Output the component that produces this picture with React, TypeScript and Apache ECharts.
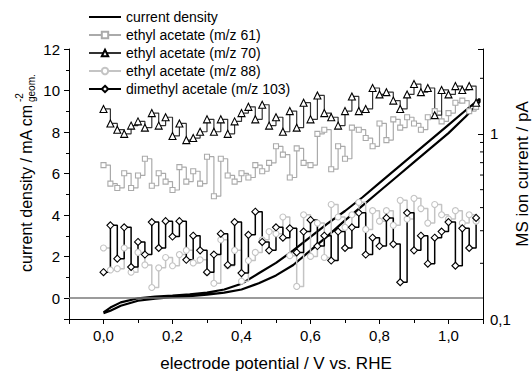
import React, { useEffect, useRef } from 'react';
import * as echarts from 'echarts';

// MS potentials (V vs. RHE)
const msPotential = [
  0.0, 0.02, 0.04, 0.06, 0.08, 0.1, 0.12, 0.14, 0.16, 0.18, 0.2, 0.22, 0.24, 0.26, 0.28,
  0.3, 0.32, 0.34, 0.36, 0.38, 0.4, 0.42, 0.44, 0.46, 0.48, 0.5, 0.52, 0.54, 0.56, 0.58,
  0.6, 0.62, 0.64, 0.66, 0.68, 0.7, 0.72, 0.74, 0.76, 0.78, 0.8, 0.82, 0.84, 0.86, 0.88,
  0.9, 0.92, 0.94, 0.96, 0.98, 1.0, 1.02, 1.04, 1.06, 1.08,
];
// MS ion currents (pA)
const ms61 = [
  0.679, 0.539, 0.511, 0.613, 0.511, 0.597, 0.735, 0.525, 0.613, 0.553,
  0.498, 0.662, 0.553, 0.629, 0.539, 0.754, 0.461, 0.735, 0.597, 0.553,
  0.613, 0.582, 0.679, 0.629, 0.698, 0.858, 0.774, 0.582, 0.836, 0.698,
  0.679, 1.002, 1.055, 0.645, 0.858, 0.735, 1.082, 1.055, 0.951, 0.858,
  1.14, 0.927, 1.2, 1.082, 1.232, 1.14, 1.055, 1.232, 1.33, 1.17,
  1.297, 1.476, 1.515, 1.33, 1.402,
];
const ms70 = [
  1.366, 1.14, 1.055, 1.002, 1.11, 1.17, 1.082, 1.297, 1.11, 1.232,
  0.976, 1.14, 0.927, 0.951, 1.028, 1.2, 1.028, 1.2, 1.002, 1.17,
  1.297, 1.402, 1.2, 1.439, 1.11, 1.232, 1.028, 1.33, 1.082, 1.476,
  1.2, 1.616, 1.297, 1.232, 1.11, 1.33, 1.596, 1.33, 1.366, 1.772,
  1.637, 1.683, 1.515, 1.366, 1.637, 1.862, 1.683, 1.772, 1.264, 1.73,
  1.637, 1.815, 1.73, 1.815, 1.476,
];
const ms88 = [
  0.242, 0.184, 0.187, 0.242, 0.179, 0.229, 0.196, 0.148, 0.189, 0.215,
  0.194, 0.223, 0.235, 0.201, 0.209, 0.179, 0.156, 0.268, 0.194, 0.235,
  0.16, 0.207, 0.229, 0.268, 0.297, 0.289, 0.356, 0.22, 0.15, 0.366,
  0.218, 0.33, 0.215, 0.416, 0.356, 0.313, 0.366, 0.427, 0.305, 0.385,
  0.338, 0.385, 0.321, 0.438, 0.347, 0.449, 0.395, 0.33, 0.416, 0.366,
  0.347, 0.385, 0.33, 0.366, 0.338,
];
const ms103 = [
  0.179, 0.321, 0.212, 0.313, 0.191, 0.261, 0.223, 0.334, 0.242, 0.338,
  0.279, 0.338, 0.209, 0.282, 0.235, 0.179, 0.223, 0.289, 0.196, 0.334,
  0.177, 0.285, 0.38, 0.261, 0.235, 0.313, 0.275, 0.309, 0.229, 0.297,
  0.343, 0.248, 0.282, 0.207, 0.297, 0.242, 0.313, 0.375, 0.223, 0.275,
  0.248, 0.352, 0.254, 0.158, 0.375, 0.235, 0.282, 0.199, 0.275, 0.297,
  0.334, 0.194, 0.309, 0.242, 0.352,
];

// Cyclic voltammogram: current density (mA cm^-2)
const cdPotential = [
  0.0, 0.02, 0.05, 0.1, 0.15, 0.2, 0.25, 0.3, 0.35, 0.4, 0.45, 0.5, 0.55, 0.6, 0.65, 0.7,
  0.75, 0.8, 0.85, 0.9, 0.95, 1.0, 1.05, 1.09,
  1.09, 1.05, 1.0, 0.95, 0.9, 0.85, 0.8, 0.75, 0.7, 0.65, 0.6, 0.55, 0.5, 0.45, 0.4,
  0.35, 0.3, 0.25, 0.2, 0.15, 0.1, 0.05, 0.02, 0.0,
];
const cdCurrent = [
  -0.72, -0.6, -0.36, -0.12, -0.02, 0.05, 0.1, 0.17, 0.27, 0.42, 0.72, 1.1, 1.6, 2.3, 3.0,
  3.75, 4.45, 5.15, 5.85, 6.55, 7.25, 7.95, 8.75, 9.45,
  9.6, 9.05, 8.35, 7.65, 6.95, 6.25, 5.55, 4.85, 4.2, 3.6, 2.95, 2.3, 1.7, 1.2, 0.7,
  0.42, 0.27, 0.19, 0.13, 0.08, 0.0, -0.2, -0.45, -0.68,
];

const seriesNames = [
  'current density',
  'ethyl acetate (m/z 61)',
  'ethyl acetate (m/z 70)',
  'ethyl acetate (m/z 88)',
  'dimethyl acetale (m/z 103)',
];
const rightMinorTicks = [0.2, 0.3, 0.4, 0.5, 0.6, 0.7, 0.8, 0.9, 2];

const FONT = 'Liberation Sans, Arial, sans-serif';

function msSeries(name: string, values: number[], lineColor: string, borderColor: string, symbol: string, size: number, width: number) {
  return {
    name,
    type: 'line',
    yAxisIndex: 1,
    step: 'end',
    data: msPotential.map((x, i) => [x, values[i]]),
    symbol,
    symbolSize: size,
    showAllSymbol: true,
    lineStyle: { color: lineColor, width },
    itemStyle: { color: '#ffffff', borderColor, borderWidth: 1.1 },
    emphasis: { disabled: true },
  };
}

export default function App() {
  const ref = useRef<HTMLDivElement>(null);
  useEffect(() => {
    if (!ref.current) return;
    const chart = echarts.init(ref.current, undefined, { renderer: 'svg' });
    const option: any = {
      animation: false,
      backgroundColor: '#ffffff',
      textStyle: { fontFamily: FONT },
      grid: { left: 69, right: 49, top: 49, bottom: 52 },
      legend: {
        data: [
          { name: seriesNames[0], itemStyle: { opacity: 0 } },
          seriesNames[1],
          seriesNames[2],
          seriesNames[3],
          seriesNames[4],
        ],
        orient: 'vertical',
        left: 88,
        top: 10,
        padding: 0,
        itemWidth: 32,
        itemHeight: 8,
        itemGap: 4,
        textStyle: { fontSize: 14, color: '#000', fontFamily: FONT },
        selectedMode: false,
      },
      xAxis: {
        type: 'value',
        min: -0.1,
        max: 1.1,
        splitNumber: 6,
        axisLine: { onZero: false, lineStyle: { color: '#000', width: 1 } },
        axisTick: { show: true, length: 5, lineStyle: { color: '#000' } },
        minorTick: { show: true, splitNumber: 2, length: 4, lineStyle: { color: '#000' } },
        splitLine: { show: false },
        axisLabel: {
          color: '#000',
          fontSize: 15,
          fontFamily: FONT,
          margin: 9,
          formatter: (v: number) => {
            const k = Math.round(v * 10);
            if (k < 0 || k > 10 || k % 2 !== 0) return '';
            return (k / 10).toFixed(1).replace('.', ',');
          },
        },
      },
      yAxis: [
        {
          type: 'value',
          min: -1,
          max: 12,
          splitNumber: 6,
          position: 'left',
          axisLine: { show: true, onZero: false, lineStyle: { color: '#000', width: 1 } },
          axisTick: { show: true, length: 5, lineStyle: { color: '#000' } },
          minorTick: { show: true, splitNumber: 2, length: 3, lineStyle: { color: '#000' } },
          splitLine: { show: false },
          axisLabel: {
            color: '#000',
            fontSize: 15,
            fontFamily: FONT,
            margin: 9,
            formatter: (v: number) => (v < 0 ? '' : String(Math.round(v))),
          },
        },
        {
          type: 'log',
          logBase: 10,
          min: 0.1,
          max: 2.88,
          position: 'right',
          axisLine: { show: true, onZero: false, lineStyle: { color: '#000', width: 1 } },
          axisTick: { show: true, inside: true, length: 5, lineStyle: { color: '#000' } },
          splitLine: { show: false },
          axisLabel: {
            color: '#000',
            fontSize: 15,
            fontFamily: FONT,
            margin: 7,
            formatter: (v: number) => {
              if (Math.abs(v - 0.1) < 1e-6) return '0,1';
              if (Math.abs(v - 1) < 1e-6) return '1';
              return '';
            },
          },
        },
      ],
      graphic: [
        {
          type: 'text',
          x: 276,
          y: 363,
          style: {
            text: 'electrode potential / V vs. RHE',
            font: `17px ${FONT}`,
            fill: '#000',
            textAlign: 'center',
            align: 'center',
            textVerticalAlign: 'middle',
            verticalAlign: 'middle',
          },
        },
        {
          type: 'text',
          x: 522,
          y: 174,
          rotation: Math.PI / 2,
          style: {
            text: 'MS ion current / pA',
            font: `17px ${FONT}`,
            fill: '#000',
            textAlign: 'center',
            align: 'center',
            textVerticalAlign: 'middle',
            verticalAlign: 'middle',
          },
        },
        {
          type: 'text',
          x: 26,
          y: 272,
          rotation: Math.PI / 2,
          style: {
            text: 'current density / mA cm',
            font: `16px ${FONT}`,
            fill: '#000',
            textAlign: 'left',
            align: 'left',
            textVerticalAlign: 'middle',
            verticalAlign: 'middle',
          },
        },
        {
          type: 'text',
          x: 19,
          y: 102,
          rotation: Math.PI / 2,
          style: {
            text: '-2',
            font: `10px ${FONT}`,
            fill: '#000',
            textAlign: 'left',
            align: 'left',
            textVerticalAlign: 'middle',
            verticalAlign: 'middle',
          },
        },
        {
          type: 'text',
          x: 31,
          y: 102,
          rotation: Math.PI / 2,
          style: {
            text: 'geom.',
            font: `10px ${FONT}`,
            fill: '#000',
            textAlign: 'left',
            align: 'left',
            textVerticalAlign: 'middle',
            verticalAlign: 'middle',
          },
        },
      ],
      series: [
        {
          name: seriesNames[0],
          type: 'line',
          yAxisIndex: 0,
          data: cdPotential.map((x, i) => [x, cdCurrent[i]]),
          symbol: 'none',
          lineStyle: { color: '#000', width: 2.2 },
          itemStyle: { color: '#000' },
          emphasis: { disabled: true },
          markLine: {
            silent: true,
            symbol: 'none',
            label: { show: false },
            lineStyle: { color: '#7a7a7a', width: 1.6, type: 'solid' },
            data: [{ yAxis: 0 }],
          },
        },
        msSeries(seriesNames[1], ms61, '#aaaaaa', '#aaaaaa', 'rect', 5, 1.2),
        msSeries(seriesNames[2], ms70, '#333333', '#000000', 'triangle', 7, 1.2),
        msSeries(seriesNames[3], ms88, '#c4c4c4', '#c4c4c4', 'circle', 6, 1.5),
        msSeries(seriesNames[4], ms103, '#000000', '#000000', 'diamond', 7, 1.5),
        {
          type: 'custom',
          yAxisIndex: 1,
          silent: true,
          clip: false,
          z: 10,
          data: rightMinorTicks.map((v) => [0, v]),
          renderItem: (params: any, api: any) => {
            const p = api.coord([api.value(0), api.value(1)]);
            const xr = params.coordSys.x + params.coordSys.width;
            return {
              type: 'line',
              shape: { x1: xr - 3, y1: p[1], x2: xr, y2: p[1] },
              style: { stroke: '#000', lineWidth: 1 },
            };
          },
        },
      ],
    };
    chart.setOption(option);
    return () => chart.dispose();
  }, []);
  return (
    <div
      ref={ref}
      style={{ position: 'fixed', left: 0, top: 0, width: 532, height: 371, background: '#fff' }}
    />
  );
}
